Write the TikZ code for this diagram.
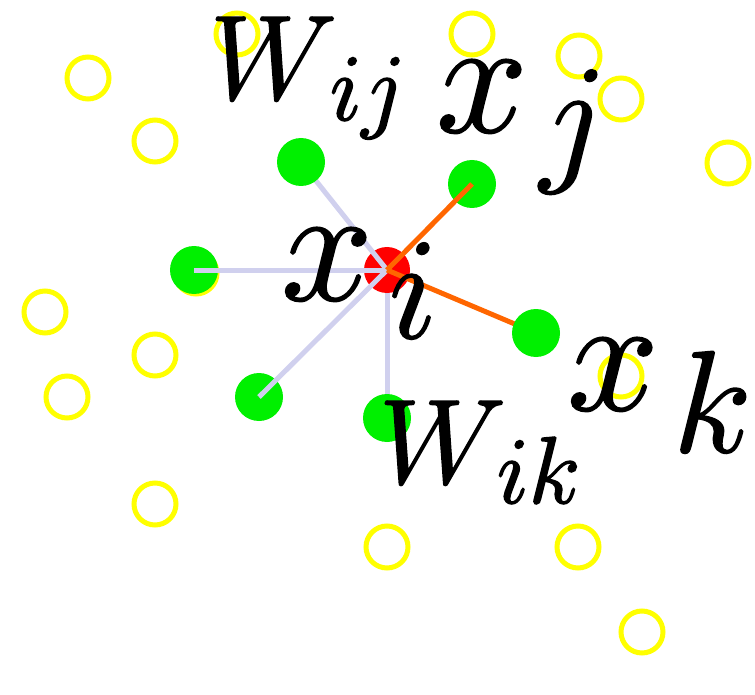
\RequirePackage{fix-cm}
\documentclass[tikz,border=0pt]{standalone}
\definecolor{ringyellow}{RGB}{255,255,0}
\definecolor{nodegreen}{RGB}{0,240,0}
\definecolor{nodered}{RGB}{255,0,0}
\definecolor{edgelav}{RGB}{208,208,238}
\definecolor{edgeorange}{RGB}{255,102,0}
\newcommand{\heavy}[1]{\special{pdf:literal direct 2 Tr 1.6 w 0 0 0 RG}#1\special{pdf:literal direct 0 Tr}}
\tikzset{
  ring/.style={circle,draw=ringyellow,line width=5pt,minimum size=42pt,inner sep=0pt},
  gdot/.style={circle,fill=nodegreen,minimum size=48pt,inner sep=0pt},
  rdot/.style={circle,fill=nodered,minimum size=46pt,inner sep=0pt},
  lavedge/.style={draw=edgelav,line width=5pt},
  orgedge/.style={draw=edgeorange,line width=5pt},
  lbl/.style={anchor=base west,inner sep=0pt,outer sep=0pt,text=black},
}
\newcommand{\bigx}{\fontsize{165}{165}\selectfont}
\newcommand{\subfont}{\fontsize{145}{145}\selectfont}
\newcommand{\Wfont}{\fontsize{120}{120}\selectfont}
\newcommand{\Wsubfont}{\fontsize{95}{95}\selectfont}
\begin{document}
\begin{tikzpicture}[x=1pt,y=-1pt]
\useasboundingbox (0,0) rectangle (755,695);
% yellow rings
\node[ring] (y1) at (237,34) {};
\node[ring] (y2) at (88,78) {};
\node[ring] (y3) at (155,141) {};
\node[ring] (y4) at (472,34) {};
\node[ring] (y5) at (579,56) {};
\node[ring] (y6) at (621,99) {};
\node[ring] (y7) at (728,163) {};
\node[ring] (y8) at (45,312) {};
\node[ring] (y9) at (155,355) {};
\node[ring] (y10) at (67,397) {};
\node[ring] (y11) at (155,504) {};
\node[ring] (y12) at (387,547) {};
\node[ring] (y13) at (578,547) {};
\node[ring] (y14) at (642,632) {};
\node[ring] (y15) at (621,376) {};
\node[ring] (y16) at (196,273) {};
% green nodes under their edges
\node[gdot] (gL) at (194,270) {};
\node[gdot] (gBL) at (259,397) {};
\node[gdot] (gU) at (472,184) {};
% centre
\coordinate (c) at (387,270);
\draw[lavedge] (c) -- (387,418);
\node[rdot] (r) at (c) {};
\draw[lavedge] (c) -- (301,162);
\draw[lavedge] (c) -- (gL.center);
\draw[lavedge] (c) -- (gBL.center);
\draw[orgedge] (c) -- (gU.center);
\draw[orgedge] (c) -- (536,333);
% green nodes over their edges
\node[gdot] (gUL) at (301,162) {};
\node[gdot] (gB) at (387,418) {};
\node[gdot] (gR) at (536,333) {};
% labels
\node[lbl] (Wij) at (210,99) {\Wfont\heavy{$W$}};
\node[lbl] (Wijs) at (330,120) {\Wsubfont\heavy{$ij$}};
\node[lbl] (xj) at (436,132) {\bigx\heavy{$x$}};
\node[lbl] (xjs) at (540,165) {\subfont\heavy{$j$}};
\node[lbl] (xi) at (281,300) {\bigx\heavy{$x$}};
\node[lbl] (xis) at (389,338) {\subfont\heavy{$i$}};
\node[lbl] (xk) at (567,410) {\bigx\heavy{$x$}};
\node[lbl] (xks) at (673,452) {\subfont\heavy{$k$}};
\node[lbl] (Wik) at (379,483) {\Wfont\heavy{$W$}};
\node[lbl] (Wiks) at (497,503) {\Wsubfont\heavy{$ik$}};
\end{tikzpicture}
\end{document}
